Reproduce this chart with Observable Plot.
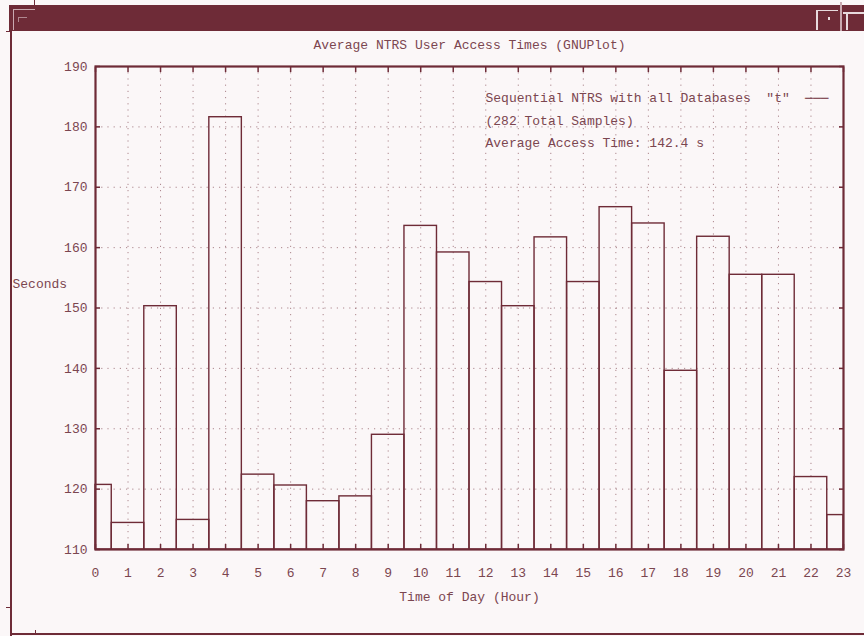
<!DOCTYPE html>
<html>
<head>
<meta charset="utf-8">
<script src="https://cdn.jsdelivr.net/npm/d3@7"></script>
<script src="https://cdn.jsdelivr.net/npm/@observablehq/plot@0.6"></script>
<style>
  html, body { margin: 0; padding: 0; background: #fbf7f8; }
  #win { position: relative; width: 864px; height: 636px; overflow: hidden; background: #fbf7f8; }
  .d { position: absolute; }
  #chart { position: absolute; left: 0; top: 0; }
</style>
</head>
<body>
<div id="win">
  <div class="d" style="left:9px;top:5px;width:855px;height:26px;background:#6e2b37"></div>
  <div class="d" style="left:10px;top:5px;width:2px;height:631px;background:#6e2b37"></div>
  <div class="d" style="left:10px;top:633px;width:854px;height:2px;background:#6e2b37"></div>
  <div class="d" style="left:6px;top:31px;width:5px;height:1px;background:#6e2b37"></div>
  <div class="d" style="left:6px;top:607px;width:5px;height:1px;background:#6e2b37"></div>
  <div class="d" style="left:35px;top:630px;width:1px;height:4px;background:#6e2b37"></div>
  <div class="d" style="left:34px;top:0px;width:1px;height:6px;background:#6e2b37"></div>
  <!-- top-left corner decoration -->
  <div class="d" style="left:13px;top:9px;width:22px;height:1px;background:#c9a9b0"></div>
  <div class="d" style="left:13px;top:9px;width:1px;height:21px;background:#c9a9b0"></div>
  <div class="d" style="left:18px;top:17px;width:9px;height:1px;background:#b08890"></div>
  <div class="d" style="left:18px;top:17px;width:1px;height:5px;background:#b08890"></div>
  <!-- top-right icons -->
  <div class="d" style="left:816px;top:10px;width:22px;height:1px;background:#e8dadd"></div>
  <div class="d" style="left:816px;top:10px;width:2px;height:20px;background:#e8dadd"></div>
  <div class="d" style="left:828px;top:17px;width:2px;height:3px;background:#e8dadd"></div>
  <div class="d" style="left:840px;top:2px;width:2px;height:29px;background:#c9a9b0"></div>
  <div class="d" style="left:843px;top:12px;width:21px;height:2px;background:#e8dadd"></div>
  <div class="d" style="left:846px;top:12px;width:2px;height:18px;background:#e8dadd"></div>
  <div id="chart"></div>
</div>
<script>
// Data (average access time in seconds per hour of day)
const hours = d3.range(0, 24);
const seconds = [120.7, 114.4, 150.3, 114.9, 181.6, 122.4, 120.6, 118.0, 118.8, 129.0,
                 163.6, 159.2, 154.3, 150.3, 161.7, 154.3, 166.7, 164.0, 139.6, 161.8,
                 155.5, 155.5, 122.0, 115.7];
const xTicks = d3.range(0, 24);
const yTicks = d3.range(110, 191, 10);
const titleText = "Average NTRS User Access Times (GNUPlot)";
const xLabel = "Time of Day (Hour)";
const yLabel = "Seconds";
const legendLines = [
  "Sequential NTRS with all Databases  \"t\"",
  "(282 Total Samples)",
  "Average Access Time: 142.4 s"
];

const data = hours.map((h, i) => ({h, v: seconds[i]}));
const maroon = "#6e2b37";
const txt = "#7b4650";
const font = "Liberation Mono, DejaVu Sans Mono, monospace";

const chart = Plot.plot({
  width: 864,
  height: 636,
  marginLeft: 95,
  marginRight: 21,
  marginTop: 66,
  marginBottom: 87,
  style: {background: "transparent", fontFamily: font, fontSize: "13px", color: txt},
  x: {domain: [0, 23], axis: null},
  y: {domain: [110, 190], axis: null},
  marks: [
    Plot.gridX(xTicks, {stroke: maroon, strokeOpacity: 0.55, strokeDasharray: "1.2,5"}),
    Plot.gridY(yTicks, {stroke: maroon, strokeOpacity: 0.55, strokeDasharray: "1.2,5"}),
    Plot.rect(data, {
      x1: d => Math.max(0, d.h - 0.5),
      x2: d => Math.min(23, d.h + 0.5),
      y1: 110,
      y2: "v",
      fill: "none",
      stroke: maroon,
      strokeWidth: 1.4
    }),
    Plot.axisX(xTicks, {anchor: "bottom", tickSize: -5, text: null, label: null, stroke: maroon, strokeWidth: 1.5}),
    Plot.axisX(xTicks, {anchor: "top", tickSize: -5, text: null, label: null, stroke: maroon, strokeWidth: 1.5}),
    Plot.axisY(yTicks, {anchor: "left", tickSize: -5, text: null, label: null, stroke: maroon, strokeWidth: 1.5}),
    Plot.axisY(yTicks, {anchor: "right", tickSize: -5, text: null, label: null, stroke: maroon, strokeWidth: 1.5}),
    Plot.axisX(xTicks, {anchor: "bottom", tickSize: 0, tickPadding: 18, label: null, fill: txt, tickFormat: d => String(d)}),
    Plot.axisY(yTicks, {anchor: "left", tickSize: 0, tickPadding: 8, label: null, fill: txt, tickFormat: d => String(d)}),
    Plot.frame({stroke: maroon, strokeWidth: 2.2}),
    Plot.text([titleText], {frameAnchor: "top", dy: -22, lineAnchor: "middle", fill: txt}),
    Plot.text([xLabel], {frameAnchor: "bottom", dy: 47, lineAnchor: "middle", fill: txt}),
    Plot.text([yLabel], {frameAnchor: "left", dx: -83, dy: -24, lineAnchor: "middle", textAnchor: "start", fill: txt}),
    Plot.text([legendLines[0]], {frameAnchor: "top-left", dx: 390, dy: 31, lineAnchor: "middle", textAnchor: "start", fill: txt}),
    Plot.text([legendLines[1]], {frameAnchor: "top-left", dx: 390, dy: 54, lineAnchor: "middle", textAnchor: "start", fill: txt}),
    Plot.text([legendLines[2]], {frameAnchor: "top-left", dx: 390, dy: 76, lineAnchor: "middle", textAnchor: "start", fill: txt}),
    Plot.text(["\u2500\u2500\u2500"], {frameAnchor: "top-right", dx: -15, dy: 31, lineAnchor: "middle", fill: maroon})
  ]
});
document.getElementById("chart").appendChild(chart);
</script>
</body>
</html>
